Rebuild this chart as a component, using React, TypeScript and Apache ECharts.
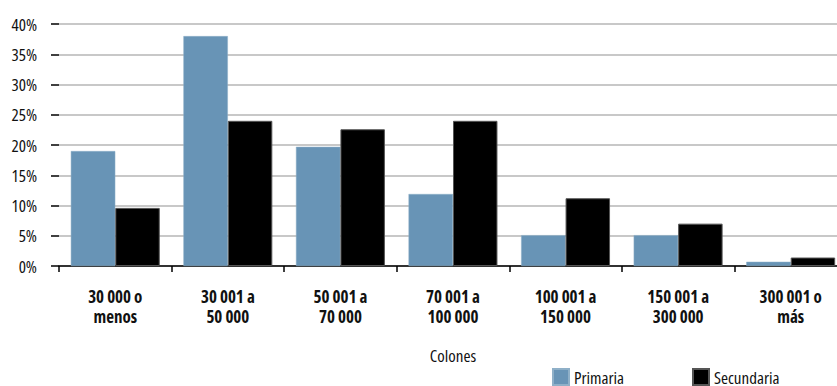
import React, { useEffect, useRef } from "react";
import * as echarts from "echarts";

// Income brackets (colones) and share of households by schooling level
const categories = [
  "30 000 o\nmenos",
  "30 001 a\n50 000",
  "50 001 a\n70 000",
  "70 001 a\n100 000",
  "100 001 a\n150 000",
  "150 001 a\n300 000",
  "300 001 o\nmás",
];
const primaria = [19, 38, 19.7, 11.9, 5.1, 5.1, 0.7];
const secundaria = [9.6, 24, 22.6, 24, 11.2, 7, 1.4];
const axisTitle = "Colones";

const FONT = '"Open Sans", "DejaVu Sans Condensed", sans-serif';

// Open Sans is a variable font with a width axis: use its condensed cut for every chart text
const condensedCss = `.chart-host svg text { font-stretch: 75% !important; }`;

export default function App() {
  const ref = useRef<HTMLDivElement>(null);

  useEffect(() => {
    if (!ref.current) return;
    const chart = echarts.init(ref.current, null, { renderer: "svg" });
    const legendText = { fontFamily: FONT, fontSize: 17, color: "#111" };
    chart.setOption({
      animation: false,
      textStyle: { fontFamily: FONT },
      grid: { left: 59, top: 24, width: 788, height: 242, containLabel: false },
      legend: [
        {
          data: ["Primaria"],
          left: 552,
          top: 368,
          itemWidth: 16,
          itemHeight: 16,
          icon: "rect",
          padding: 0,
          textStyle: legendText,
        },
        {
          data: ["Secundaria"],
          left: 692,
          top: 368,
          itemWidth: 16,
          itemHeight: 16,
          icon: "rect",
          padding: 0,
          textStyle: legendText,
        },
      ],
      xAxis: {
        type: "category",
        data: categories,
        name: axisTitle,
        nameLocation: "middle",
        nameGap: 81,
        nameTextStyle: { fontFamily: FONT, fontSize: 17, color: "#111" },
        axisLine: { show: true, lineStyle: { color: "#000", width: 1.5 } },
        axisTick: { show: true, length: 6, lineStyle: { color: "#000", width: 1.5 } },
        axisLabel: {
          margin: 20,
          fontFamily: FONT,
          fontSize: 17,
          fontWeight: "bold",
          lineHeight: 20,
          color: "#111",
          interval: 0,
        },
      },
      yAxis: {
        type: "value",
        min: 0,
        max: 40,
        interval: 5,
        axisLine: { show: false },
        axisTick: { show: true, inside: false, length: 8, lineStyle: { color: "#000", width: 1.5 } },
        axisLabel: {
          formatter: "{value}%",
          margin: 22,
          fontFamily: FONT,
          fontSize: 17,
          color: "#111",
        },
        splitLine: { show: true, lineStyle: { color: "#c8c8c8", width: 2 } },
      },
      series: [
        {
          name: "Primaria",
          type: "bar",
          data: primaria,
          barWidth: "39.5%",
          barGap: "0%",
          itemStyle: { color: "#6894b6", borderColor: "#8fb0c8", borderWidth: 0.5 },
        },
        {
          name: "Secundaria",
          type: "bar",
          data: secundaria,
          barWidth: "39.5%",
          barGap: "0%",
          itemStyle: { color: "#000000", borderColor: "#555", borderWidth: 1 },
        },
      ],
    });
    return () => chart.dispose();
  }, []);

  return (
    <div
      style={{
        position: "fixed",
        left: 0,
        top: 0,
        width: 837,
        height: 386,
        overflow: "hidden",
        background: "#fff",
      }}
    >
      <style>{condensedCss}</style>
      <div ref={ref} className="chart-host" style={{ width: 880, height: 386 }} />
    </div>
  );
}
